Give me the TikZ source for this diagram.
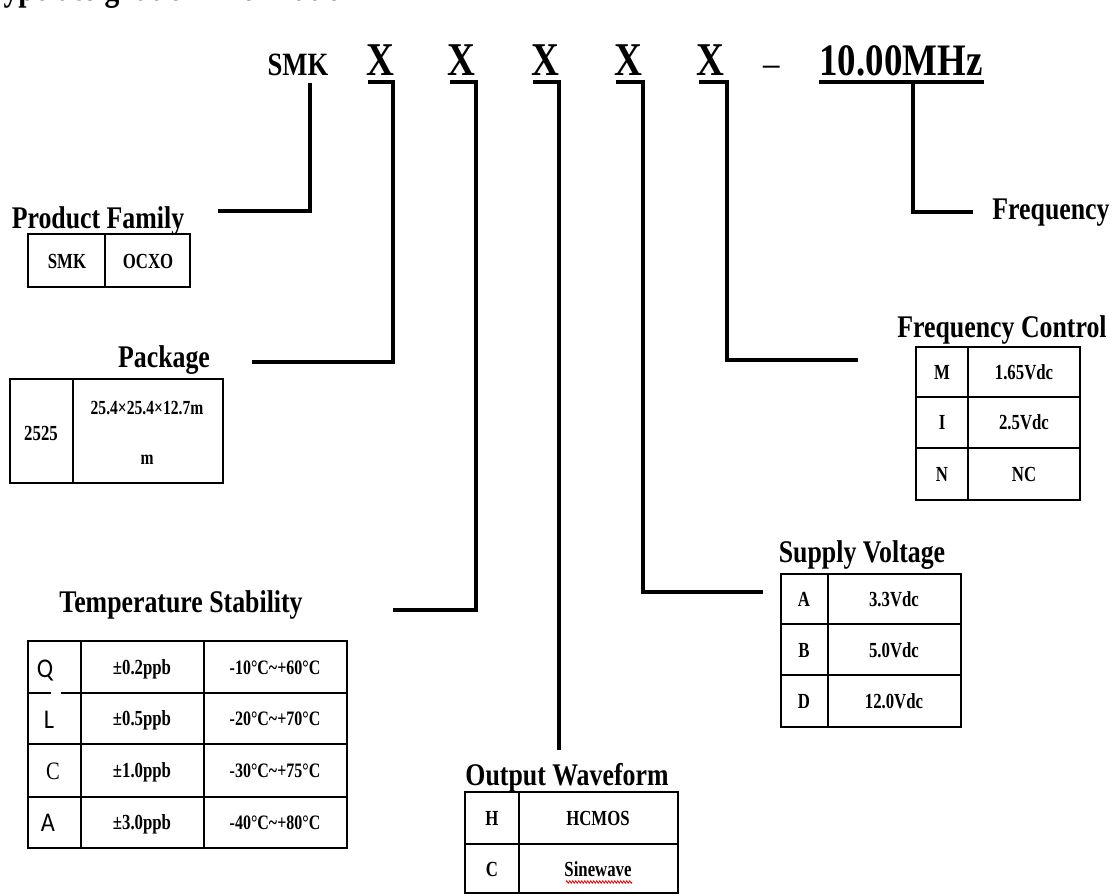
\documentclass[tikz,border=0pt]{standalone}
\usepackage{fontspec}
\setmainfont{Liberation Serif}[FakeStretch=0.82]
\newfontfamily\cellf{Liberation Serif}[FakeStretch=0.78]
\newfontfamily\sansq{Carlito}[FakeStretch=0.9]
\usetikzlibrary{decorations.pathmorphing}
\begin{document}
\begin{tikzpicture}[x=1pt,y=-1pt,
  conn/.style={line width=3.5pt},
  tbl/.style={line width=2pt},
  ttl/.style={font=\bfseries\fontsize{31.5}{36}\selectfont, inner sep=0pt, anchor=base},
  cell/.style={font=\cellf\bfseries\fontsize{21.5}{24}\selectfont, inner sep=0pt, anchor=center, text height=14.5pt, text depth=0pt},
  bigx/.style={font=\bfseries\fontsize{47}{50}\selectfont, inner sep=0pt, anchor=base}]
\useasboundingbox (0,0) rectangle (1115,895);
\begin{scope}
\clip (0,0) rectangle (1115,895);
\node[font=\bfseries\fontsize{36}{38}\selectfont, inner sep=0pt, anchor=base west] (title) at (-14,0.5) {Type designation information};
\end{scope}

% top code line
\node[font=\bfseries\fontsize{32.5}{36}\selectfont, inner sep=0pt, anchor=base] (smk) at (298,75) {SMK};
\node[bigx] (x1) at (380,75) {X};
\node[bigx] (x2) at (461,75) {X};
\node[bigx] (x3) at (545,75) {X};
\node[bigx] (x4) at (628,75) {X};
\node[bigx] (x5) at (710,75) {X};
\node[font=\fontsize{40}{48}\selectfont, inner sep=0pt, anchor=base] (dash) at (772,76) {–};
\node[font=\bfseries\fontsize{45}{50}\selectfont, inner sep=0pt, anchor=base] (freq) at (901,75) {10.00MHz};

% titles
\node[ttl] (tpf) at (98,228) {Product Family};
\node[ttl] (tpk) at (164,367) {Package};
\node[ttl] (tts) at (181,612) {Temperature Stability};
\node[ttl] (tow) at (567,785) {Output Waveform};
\node[ttl] (tsv) at (862,562) {Supply Voltage};
\node[ttl] (tfc) at (1002,337) {Frequency Control};
\node[ttl] (tfr) at (1051,219) {Frequency};

% connector coordinates
\coordinate (smkc) at (310,83);
\coordinate (pfend) at (218,211);
\coordinate (x1l) at (368,82); \coordinate (x1r) at (393,82); \coordinate (pkend) at (252,362);
\coordinate (x2l) at (450,82); \coordinate (x2r) at (476,82); \coordinate (tsend) at (393,610);
\coordinate (x3l) at (533,82); \coordinate (x3r) at (559,82); \coordinate (owend) at (559,750);
\coordinate (x4l) at (616,82); \coordinate (x4r) at (643,82); \coordinate (svend) at (763,592);
\coordinate (x5l) at (699,82); \coordinate (x5r) at (727,82); \coordinate (fcend) at (858,360);
\coordinate (mhl) at (819,82); \coordinate (mhr) at (984,82); \coordinate (mhc) at (913,82); \coordinate (frend) at (973,212);

\draw[conn] (smkc) |- (pfend);
\draw[conn] (x1l) -- (x1r) |- (pkend);
\draw[conn] (x2l) -- (x2r) |- (tsend);
\draw[conn] (x3l) -- (x3r) -- (owend);
\draw[conn] (x4l) -- (x4r) |- (svend);
\draw[conn] (x5l) -- (x5r) |- (fcend);
\draw[conn] (mhl) -- (mhr);
\draw[conn] (mhc) |- (frend);

% Product family table
\draw[tbl] (28,234) rectangle (190,287) (105,234) -- (105,287);
\node[cell] (pf1) at (67,261) {SMK};
\node[cell] (pf2) at (148,261) {OCXO};

% Package table
\draw[tbl] (10,379) rectangle (223,483) (73,379) -- (73,483);
\node[cell] (pk1) at (41,433) {2525};
\node[cell, font=\cellf\bfseries\fontsize{20}{22}\selectfont] (pk2) at (147,407) {25.4×25.4×12.7m};
\node[cell, font=\cellf\bfseries\fontsize{20}{22}\selectfont] (pk3) at (147,457) {m};

% Temperature stability table
\draw[tbl] (28,641) rectangle (347,848);
\draw[tbl] (28,693) -- (347,693) (28,744) -- (347,744) (28,797) -- (347,797);
\draw[tbl] (81,641) -- (81,848) (204,641) -- (204,848);
\draw[white, line width=3pt] (51,693) -- (61,693);
\node[font=\sansq\fontsize{27}{30}\selectfont, inner sep=0pt, anchor=base] (tq) at (45,677) {Q};
\node[font=\sansq\fontsize{27}{30}\selectfont, inner sep=0pt, anchor=base] (tl) at (49,728) {L};
\node[font=\fontsize{25}{28}\selectfont, inner sep=0pt, anchor=base] (tc) at (53,779) {C};
\node[font=\sansq\fontsize{27}{30}\selectfont, inner sep=0pt, anchor=base] (ta) at (48,831) {A};
\node[cell] (t12) at (142,667) {±0.2ppb};
\node[cell] (t22) at (142,718) {±0.5ppb};
\node[cell] (t32) at (142,770) {±1.0ppb};
\node[cell] (t42) at (142,822) {±3.0ppb};
\node[cell, font=\cellf\bfseries\fontsize{20.5}{24}\selectfont] (t13) at (275,667) {-10°C\textasciitilde+60°C};
\node[cell, font=\cellf\bfseries\fontsize{20.5}{24}\selectfont] (t23) at (275,718) {-20°C\textasciitilde+70°C};
\node[cell, font=\cellf\bfseries\fontsize{20.5}{24}\selectfont] (t33) at (275,770) {-30°C\textasciitilde+75°C};
\node[cell, font=\cellf\bfseries\fontsize{20.5}{24}\selectfont] (t43) at (275,822) {-40°C\textasciitilde+80°C};

% Output waveform table
\draw[tbl] (465,792) rectangle (678,893) (465,844) -- (678,844) (519,792) -- (519,893);
\node[cell] (o11) at (492,818) {H};
\node[cell] (o12) at (598,818) {HCMOS};
\node[cell] (o21) at (492,869) {C};
\node[cell] (o22) at (598,869) {Sinewave};
\draw[red, line width=0.8pt, decorate, decoration={zigzag, amplitude=1.2pt, segment length=3pt}] (566,882) -- (632,882);

% Supply voltage table
\draw[tbl] (781,574) rectangle (961,727) (781,624) -- (961,624) (781,675) -- (961,675) (828,574) -- (828,727);
\node[cell] (s11) at (804,599) {A};
\node[cell] (s12) at (894,599) {3.3Vdc};
\node[cell] (s21) at (804,650) {B};
\node[cell] (s22) at (894,650) {5.0Vdc};
\node[cell] (s31) at (804,701) {D};
\node[cell] (s32) at (894,701) {12.0Vdc};

% Frequency control table
\draw[tbl] (916,347) rectangle (1080,500) (916,397) -- (1080,397) (916,448) -- (1080,448) (968,347) -- (968,500);
\node[cell] (f11) at (942,372) {M};
\node[cell] (f12) at (1024,372) {1.65Vdc};
\node[cell] (f21) at (942,422) {I};
\node[cell] (f22) at (1024,422) {2.5Vdc};
\node[cell] (f31) at (942,474) {N};
\node[cell] (f32) at (1024,474) {NC};
\end{tikzpicture}
\end{document}
